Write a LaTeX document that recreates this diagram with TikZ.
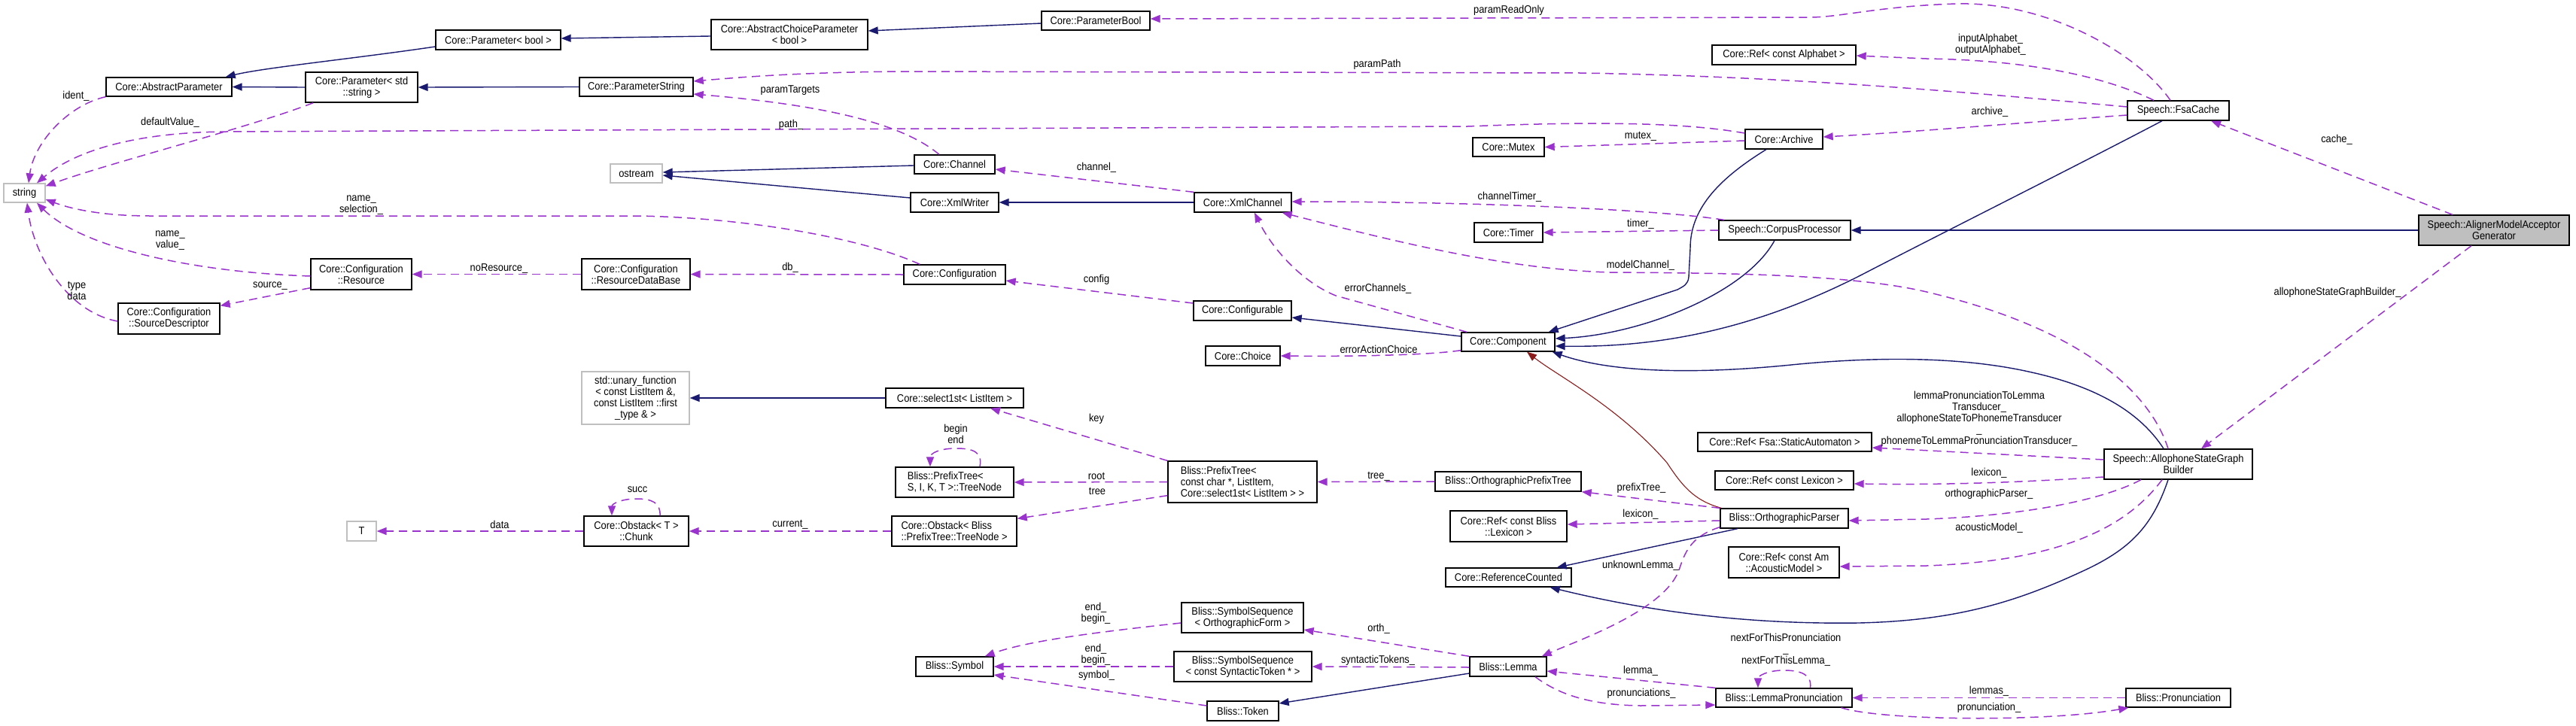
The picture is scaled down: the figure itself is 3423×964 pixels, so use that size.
\documentclass[tikz,border=0pt]{standalone}
\usepackage{fontspec}
\setmainfont{Liberation Sans}[FakeStretch=0.9]
\usetikzlibrary{arrows.meta}
\definecolor{inhc}{HTML}{191970}
\definecolor{usec}{HTML}{9A32CD}
\definecolor{privc}{HTML}{8B1A1A}
\definecolor{extc}{HTML}{BFBFBF}
\newcommand{\dgfont}{\fontsize{14.3}{15}\selectfont}
\tikzset{
  box/.style={draw=black, line width=1.3pt, fill=white, inner sep=0pt, align=center, font=\dgfont},
  extbox/.style={box, draw=extc},
  lbl/.style={inner sep=0pt, align=center, font=\dgfont},
  inh/.style={draw=inhc, line width=1.4pt, -{Triangle[length=13pt,width=10pt]}},
  usage/.style={draw=usec, line width=1.5pt, dash pattern=on 11pt off 7pt, -{Triangle[length=13pt,width=10pt]}},
  priv/.style={draw=privc, line width=1.1pt, -{Triangle[length=13pt,width=10pt]}},
}
\begin{document}
\begin{tikzpicture}[x=1pt,y=-1pt]
\useasboundingbox (0,0) rectangle (3423,964);
% ---------- nodes ----------
\node[box, minimum width=166pt, minimum height=26pt] (pbool) at (662,53) {Core::Parameter< bool >};
\node[box, minimum width=167pt, minimum height=25pt] (absparam) at (224.5,115.5) {Core::AbstractParameter};
\node[box, minimum width=149pt, minimum height=40pt] (pstr) at (480.5,116) {Core::Parameter< std\\::string >};
\node[box, minimum width=151pt, minimum height=25pt] (paramstr) at (845.5,115.5) {Core::ParameterString};
\node[box, minimum width=208pt, minimum height=40pt] (abschoice) at (1049,46) {Core::AbstractChoiceParameter\\< bool >};
\node[box, minimum width=144pt, minimum height=25pt] (parambool) at (1456,27.5) {Core::ParameterBool};
\node[extbox, minimum width=55pt, minimum height=25pt] (string) at (32.5,256.5) {string};
\node[extbox, minimum width=69pt, minimum height=25pt] (ostream) at (845.5,230.5) {ostream};
\node[box, minimum width=107pt, minimum height=25pt] (channel) at (1268.5,218.5) {Core::Channel};
\node[box, minimum width=117pt, minimum height=26pt] (xmlwriter) at (1268.5,269) {Core::XmlWriter};
\node[box, minimum width=129pt, minimum height=26pt] (xmlchannel) at (1651.5,269) {Core::XmlChannel};
\node[box, minimum width=191pt, minimum height=26pt] (refalpha) at (2370.5,73) {Core::Ref< const Alphabet >};
\node[box, minimum width=95pt, minimum height=25pt] (mutex) at (2004.5,195.5) {Core::Mutex};
\node[box, minimum width=103pt, minimum height=26pt] (archive) at (2370.5,185) {Core::Archive};
\node[box, minimum width=91pt, minimum height=26pt] (timer) at (2004.5,309) {Core::Timer};
\node[box, minimum width=175pt, minimum height=26pt] (corpus) at (2371.5,306) {Speech::CorpusProcessor};
\node[box, minimum width=135pt, minimum height=26pt] (fsacache) at (2894.5,147) {Speech::FsaCache};
\node[box, fill=extc, minimum width=200pt, minimum height=40pt] (aligner) at (3314,306) {Speech::AlignerModelAcceptor\\Generator};
\node[box, minimum width=134pt, minimum height=41pt] (resource) at (480,364.5) {Core::Configuration\\::Resource};
\node[box, minimum width=135pt, minimum height=41pt] (srcdesc) at (224.5,423.5) {Core::Configuration\\::SourceDescriptor};
\node[box, minimum width=144pt, minimum height=41pt] (resdb) at (845,364.5) {Core::Configuration\\::ResourceDataBase};
\node[extbox, minimum width=143pt, minimum height=70pt] (unary) at (844.5,529) {std::unary\_function\\< const ListItem \&,\\ const ListItem ::first\\\_type \& >};
\node[box, minimum width=135pt, minimum height=26pt] (config) at (1268.5,365) {Core::Configuration};
\node[box, minimum width=130pt, minimum height=26pt] (configurable) at (1651,413) {Core::Configurable};
\node[box, minimum width=99pt, minimum height=26pt] (choice) at (1651.5,473) {Core::Choice};
\node[box, minimum width=183pt, minimum height=26pt] (select1st) at (1268.5,529) {Core::select1st< ListItem >};
\node[box, align=left, minimum width=157pt, minimum height=40pt] (treenode) at (1268.5,641) {Bliss::PrefixTree<\\S, I, K, T >::TreeNode};
\node[box, align=left, minimum width=198pt, minimum height=55pt] (prefixtree) at (1651,640.5) {Bliss::PrefixTree<\\ const char *, ListItem,\\Core::select1st< ListItem > >};
\node[box, minimum width=194pt, minimum height=26pt] (orthprefix) at (2004,640) {Bliss::OrthographicPrefixTree};
\node[box, minimum width=124pt, minimum height=25pt] (component) at (2004,454.5) {Core::Component};
\node[box, minimum width=231pt, minimum height=25pt] (reffsa) at (2371.5,587.5) {Core::Ref< Fsa::StaticAutomaton >};
\node[box, minimum width=184pt, minimum height=25pt] (reflex) at (2371,638.5) {Core::Ref< const Lexicon >};
\node[box, minimum width=197pt, minimum height=40pt] (asgb) at (2894.5,617) {Speech::AllophoneStateGraph\\Builder};
\node[box, minimum width=139pt, minimum height=40pt] (chunk) at (845.5,706) {Core::Obstack< T >\\::Chunk};
\node[extbox, minimum width=39pt, minimum height=26pt] (T) at (480.5,706) {T};
\node[box, align=left, minimum width=166pt, minimum height=40pt] (obstack) at (1268,706) {Core::Obstack< Bliss\\::PrefixTree::TreeNode >};
\node[box, minimum width=162pt, minimum height=40pt] (symorth) at (1651,821) {Bliss::SymbolSequence\\< OrthographicForm >};
\node[box, minimum width=183pt, minimum height=40pt] (symsynt) at (1651.5,886) {Bliss::SymbolSequence\\< const SyntacticToken * >};
\node[box, minimum width=103pt, minimum height=26pt] (symbol) at (1268.5,886) {Bliss::Symbol};
\node[box, minimum width=95pt, minimum height=26pt] (token) at (1651.5,945) {Bliss::Token};
\node[box, minimum width=155pt, minimum height=41pt] (refblex) at (2004.5,699.5) {Core::Ref< const Bliss\\::Lexicon >};
\node[box, minimum width=170pt, minimum height=26pt] (orthparser) at (2371,689) {Bliss::OrthographicParser};
\node[box, minimum width=167pt, minimum height=25pt] (refcount) at (2004.5,767.5) {Core::ReferenceCounted};
\node[box, minimum width=147pt, minimum height=41pt] (refam) at (2370.5,747.5) {Core::Ref< const Am\\::AcousticModel >};
\node[box, minimum width=102pt, minimum height=26pt] (lemma) at (2004,886) {Bliss::Lemma};
\node[box, minimum width=181pt, minimum height=25pt] (lemmapron) at (2370.5,927.5) {Bliss::LemmaPronunciation};
\node[box, minimum width=139pt, minimum height=25pt] (pron) at (2894.5,927.5) {Bliss::Pronunciation};
% ---------- inheritance ----------
\draw[inh] ([yshift=-9pt]pbool.west) .. controls (470,78) and (350,90) .. ([xshift=-9pt]absparam.north east);
\draw[inh] (pstr.west) -- (absparam.east);
\draw[inh] ([yshift=-2pt]abschoice.west) -- ([yshift=2pt]pbool.east);
\draw[inh] ([yshift=-3.5pt]parambool.west) -- ([yshift=5pt]abschoice.east);
\draw[inh] (paramstr.west) -- (pstr.east);
\draw[inh] ([yshift=-1.5pt]channel.west) -- ([yshift=1.5pt]ostream.east);
\draw[inh] ([yshift=6pt]xmlwriter.west) -- ([yshift=-2.5pt]ostream.east);
\draw[inh] (xmlchannel.west) -- (xmlwriter.east);
\draw[inh] ([yshift=7.5pt]component.west) -- ([yshift=-9pt]configurable.east);
\draw[inh] ([xshift=-13.5pt]corpus.south) .. controls (2320,390) and (2180,445) .. ([yshift=4.5pt]component.east);
\draw[inh] ([xshift=-23.5pt]archive.south) .. controls (2280,240) and (2246,280) .. (2246,330) -- (2244,368) .. controls (2243,378) and (2238,380) .. (2229,385) -- ([xshift=-9pt]component.north east);
\draw[inh] ([xshift=-21.5pt]fsacache.south) .. controls (2760,220) and (2600,300) .. (2480,362) .. controls (2330,440) and (2200,462) .. ([yshift=-5.5pt]component.east);
\draw[inh] ([xshift=-19.5pt]asgb.north) .. controls (2845,550) and (2790,515) .. (2700,495) .. controls (2600,472) and (2480,475) .. (2380,485) .. controls (2250,498) and (2140,495) .. ([xshift=-4pt]component.south east);
\draw[inh] (aligner.west) -- (corpus.east);
\draw[inh] (select1st.west) -- (unary.east);
\draw[inh] ([xshift=-62pt]orthparser.south) -- ([xshift=-20pt]refcount.north east);
\draw[inh] ([xshift=-13.5pt]asgb.south) .. controls (2860,700) and (2830,730) .. (2770,758) .. controls (2680,800) and (2600,825) .. (2470,828) .. controls (2330,830) and (2200,815) .. ([xshift=-29pt]refcount.south east);
\draw[inh] ([yshift=-9pt]lemma.west) -- ([yshift=10pt]token.east);
\draw[priv] ([xshift=2pt]orthparser.north west) .. controls (2250,665) and (2235,645) .. (2215,615) .. controls (2150,540) and (2070,500) .. ([xshift=25pt]component.south);
% ---------- usage ----------
\draw[usage] ([xshift=-10.5pt]fsacache.north) .. controls (2840,70) and (2720,2) .. (2600,5) .. controls (2500,8) and (2450,22) .. (2408,23) -- ([yshift=2.5pt]parambool.east);
\draw[usage] ([xshift=-32.5pt]fsacache.north) .. controls (2800,103) and (2700,80) .. (2560,78) -- ([yshift=-1pt]refalpha.east);
\draw[usage] ([yshift=5pt]fsacache.west) .. controls (2650,126) and (2400,102) .. (2100,97) -- (1200,95) .. controls (1060,96) and (980,103) .. ([yshift=7.5pt]paramstr.east);
\draw[usage] ([yshift=-6pt]fsacache.west) .. controls (2700,162) and (2550,175) .. ([yshift=3pt]archive.east);
\draw[usage] ([xshift=-55pt]aligner.north) -- ([xshift=43.5pt]fsacache.south);
\draw[usage] ([xshift=-30pt]aligner.south) -- ([xshift=30.5pt]asgb.north);
\draw[usage] (absparam.south west) .. controls (90,140) and (45,190) .. ([xshift=5.5pt]string.north);
\draw[usage] ([xshift=11pt]pstr.south west) .. controls (330,170) and (150,215) .. ([yshift=-4pt]string.north east);
\draw[usage] ([yshift=8pt]archive.west) .. controls (2250,165) and (2150,160) .. (1950,168) -- (300,175) .. controls (180,176) and (100,200) .. ([xshift=16.5pt]string.north);
\draw[usage] ([xshift=22pt]config.north west) .. controls (1150,318) and (1000,290) .. (850,287) -- (200,287) .. controls (130,287) and (90,276) .. ([yshift=-8.5pt]string.east);
\draw[usage] ([yshift=-2.5pt]resource.west) .. controls (260,362) and (110,330) .. ([xshift=16.5pt]string.south);
\draw[usage] ([yshift=-3.5pt]srcdesc.west) .. controls (90,415) and (45,340) .. ([xshift=3.5pt]string.south);
\draw[usage] ([yshift=3pt]resource.south west) -- ([yshift=-4pt]srcdesc.north east);
\draw[usage] (resdb.west) -- (resource.east);
\draw[usage] (config.west) -- (resdb.east);
\draw[usage] ([yshift=10pt]configurable.west) -- ([yshift=-8pt]config.east);
\draw[usage] ([xshift=-20.5pt]channel.north) .. controls (1200,165) and (1100,140) .. ([yshift=-9.5pt]paramstr.east);
\draw[usage] (xmlchannel.north west) -- ([yshift=-6.5pt]channel.east);
\draw[usage] ([yshift=-2pt]archive.west) -- (mutex.east);
\draw[usage] ([xshift=8pt]corpus.north west) .. controls (2200,278) and (1950,268) .. ([yshift=1pt]xmlchannel.east);
\draw[usage] (corpus.west) -- (timer.east);
\draw[usage] ([xshift=8pt]component.north west) -- (1775,393) .. controls (1730,375) and (1690,330) .. ([xshift=15.5pt]xmlchannel.south);
\draw[usage] ([xshift=-13.5pt]asgb.north) .. controls (2860,530) and (2780,440) .. (2560,388) .. controls (2450,362) and (2250,363) .. (2139,362) .. controls (2000,358) and (1850,320) .. ([xshift=-13pt]xmlchannel.south east);
\draw[usage] ([yshift=2pt]component.south west) .. controls (1900,472) and (1800,474) .. (choice.east);
\draw[usage] (prefixtree.north west) -- ([xshift=47.5pt]select1st.south);
\draw[usage] (prefixtree.west) -- (treenode.east);
\draw[usage] ([yshift=10pt]prefixtree.south west) -- ([yshift=-4pt]obstack.north east);
\draw[usage] ([xshift=33.5pt]treenode.north) .. controls (1306,600) and (1292,596) .. (1270,596) .. controls (1250,596) and (1236,602) .. ([xshift=-32.5pt]treenode.north);
\draw[usage] ([xshift=31.5pt]chunk.north) .. controls (878,668) and (866,663) .. (846,663) .. controls (825,663) and (813,670) .. ([xshift=-32.5pt]chunk.north);
\draw[usage] (chunk.west) -- (T.east);
\draw[usage] (obstack.west) -- (chunk.east);
\draw[usage] (orthprefix.west) -- (prefixtree.east);
\draw[usage] (orthparser.north west) -- (orthprefix.south east);
\draw[usage] ([yshift=-3pt]orthparser.west) -- ([yshift=2.5pt]refblex.east);
\draw[usage] ([yshift=2pt]orthparser.south west) .. controls (2250,712) and (2240,730) .. (2232,755) .. controls (2215,810) and (2100,850) .. ([xshift=-7pt]lemma.north east);
\draw[usage] ([yshift=6pt]asgb.west) -- ([yshift=-7.5pt]reffsa.east);
\draw[usage] ([yshift=-17pt]asgb.west) .. controls (2700,640) and (2600,645) .. ([yshift=-4.5pt]reflex.east);
\draw[usage] ([xshift=-49.5pt]asgb.south) .. controls (2800,662) and (2700,685) .. (2560,690) -- ([yshift=-3pt]orthparser.east);
\draw[usage] ([xshift=-21.5pt]asgb.south) .. controls (2830,695) and (2750,745) .. (2560,752) -- ([yshift=-5.5pt]refam.east);
\draw[usage] (lemma.north west) -- ([yshift=-16pt]symorth.east);
\draw[usage] ([yshift=-1pt]lemma.west) -- (symsynt.east);
\draw[usage] ([yshift=-7pt]symorth.west) .. controls (1480,838) and (1370,850) .. ([xshift=-12pt]symbol.north east);
\draw[usage] (symsynt.west) -- (symbol.east);
\draw[usage] ([yshift=7pt]token.west) -- ([yshift=-11pt]symbol.east);
\draw[usage] (lemmapron.north west) -- ([yshift=-6pt]lemma.east);
\draw[usage] ([xshift=36pt]lemma.south) .. controls (2070,922) and (2110,937) .. (2180,938) -- ([yshift=-9.5pt]lemmapron.west);
\draw[usage] ([xshift=35pt]lemmapron.north) .. controls (2408,896) and (2392,891) .. (2370,891) .. controls (2350,891) and (2336,898) .. ([xshift=-34.5pt]lemmapron.north);
\draw[usage] (pron.west) -- (lemmapron.east);
\draw[usage] ([xshift=-15pt]lemmapron.south east) .. controls (2500,958) and (2720,960) .. ([xshift=4pt]pron.south west);
% ---------- labels ----------
\node[lbl] (l1) at (2005,14) {paramReadOnly};
\node[lbl] (l2) at (2645,59) {inputAlphabet\_\\outputAlphabet\_};
\node[lbl] (l3) at (1830,86) {paramPath};
\node[lbl] (l4) at (2644,149) {archive\_};
\node[lbl] (l5) at (3105,186) {cache\_};
\node[lbl] (l6) at (3106,389) {allophoneStateGraphBuilder\_};
\node[lbl] (l7) at (101,128) {ident\_};
\node[lbl] (l8) at (226,163) {defaultValue\_};
\node[lbl] (l9) at (1051,166) {path\_};
\node[lbl] (l10) at (480,273) {name\_\\selection\_};
\node[lbl] (l11) at (226,320) {name\_\\value\_};
\node[lbl] (l12) at (102,386) {type\\data};
\node[lbl] (l13) at (359,380) {source\_};
\node[lbl] (l14) at (663,357) {noResource\_};
\node[lbl] (l15) at (1050,356) {db\_};
\node[lbl] (l16) at (1457,372) {config};
\node[lbl] (l17) at (1050,120) {paramTargets};
\node[lbl] (l18) at (1457,223) {channel\_};
\node[lbl] (l19) at (2180,181) {mutex\_};
\node[lbl] (l20) at (2006,262) {channelTimer\_};
\node[lbl] (l21) at (2180,298) {timer\_};
\node[lbl] (l22) at (1831,384) {errorChannels\_};
\node[lbl] (l23) at (2180,353) {modelChannel\_};
\node[lbl] (l24) at (1832,464) {errorActionChoice};
\node[lbl] (l25) at (1457,557) {key};
\node[lbl] (l26) at (1457,633) {root};
\node[lbl] (l27) at (1458,653) {tree};
\node[lbl] (l28) at (1270,577) {begin\\end};
\node[lbl] (l29) at (847,651) {succ};
\node[lbl] (l30) at (664,697) {data};
\node[lbl] (l31) at (1050,697) {current\_};
\node[lbl] (l32) at (1832,633) {tree\_};
\node[lbl] (l33) at (2181,649) {prefixTree\_};
\node[lbl] (l34) at (2180,684) {lexicon\_};
\node[lbl] (l35) at (2180,752) {unknownLemma\_};
\node[lbl] (l36) at (2630,557) {lemmaPronunciationToLemma\\Transducer\_\\allophoneStateToPhonemeTransducer\\\_\\phonemeToLemmaPronunciationTransducer\_};
\node[lbl] (l37) at (2643,629) {lexicon\_};
\node[lbl] (l38) at (2643,657) {orthographicParser\_};
\node[lbl] (l39) at (2643,702) {acousticModel\_};
\node[lbl] (l40) at (1832,836) {orth\_};
\node[lbl] (l41) at (1831,878) {syntacticTokens\_};
\node[lbl] (l42) at (1456,815) {end\_\\begin\_};
\node[lbl] (l43) at (1456,870) {end\_\\begin\_};
\node[lbl] (l44) at (1457,898) {symbol\_};
\node[lbl] (l45) at (2180,892) {lemma\_};
\node[lbl] (l46) at (2181,922) {pronunciations\_};
\node[lbl] (l47) at (2373,864) {nextForThisPronunciation\\\_\\nextForThisLemma\_};
\node[lbl] (l48) at (2643,919) {lemmas\_};
\node[lbl] (l49) at (2643,941) {pronunciation\_};
\end{tikzpicture}
\end{document}
